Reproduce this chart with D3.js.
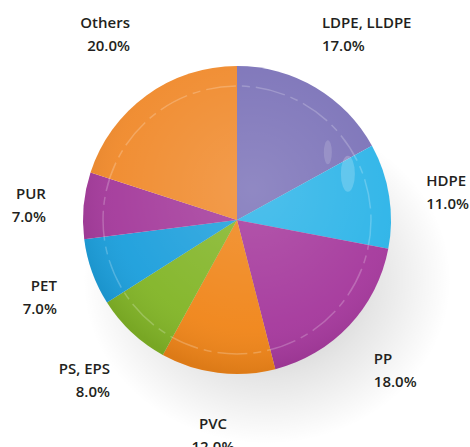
<!DOCTYPE html>
<html>
<head>
<meta charset="utf-8">
<script src="https://cdn.jsdelivr.net/npm/d3@7"></script>
<style>
	body { margin: 0; background: #fff; }
	svg { display: block; }
	text { font-family: "Open Sans", sans-serif; font-weight: 600; font-size: 15px; fill: #231f20; }
</style>
</head>
<body>
<svg id="pie"></svg>
<script>
const categories = ["LDPE, LLDPE", "HDPE", "PP", "PVC", "PS, EPS", "PET", "PUR", "Others"];
const shares = [17.0, 11.0, 18.0, 12.0, 8.0, 7.0, 7.0, 20.0];
const colours = ["#7b72b8", "#2cb4e8", "#a5389c", "#f08519", "#82b527", "#1c9fdc", "#a43a9b", "#f08a2c"];

const width = 470, height = 447;
const cx = 237, cy = 220, radius = 154;

const svg = d3.select("#pie")
		.attr("width", width)
		.attr("height", height);

const defs = svg.append("defs");

// soft shadow under the ball
const shadow = defs.append("radialGradient").attr("id", "shadow");
shadow.append("stop").attr("offset", "0%").attr("stop-color", "#000").attr("stop-opacity", 0.28);
shadow.append("stop").attr("offset", "60%").attr("stop-color", "#000").attr("stop-opacity", 0.1);
shadow.append("stop").attr("offset", "100%").attr("stop-color", "#000").attr("stop-opacity", 0);

// gloss over the slices
const gloss = defs.append("radialGradient").attr("id", "gloss")
		.attr("cx", "55%").attr("cy", "40%").attr("r", "60%");
gloss.append("stop").attr("offset", "0%").attr("stop-color", "#fff").attr("stop-opacity", 0.16);
gloss.append("stop").attr("offset", "75%").attr("stop-color", "#fff").attr("stop-opacity", 0.04);
gloss.append("stop").attr("offset", "100%").attr("stop-color", "#000").attr("stop-opacity", 0.08);

svg.append("ellipse")
	.attr("cx", cx + 30)
	.attr("cy", cy + 60)
	.attr("rx", radius + 30)
	.attr("ry", radius + 10)
	.attr("fill", "url(#shadow)");

const g = svg.append("g").attr("transform", "translate(" + cx + "," + cy + ")");

const data = categories.map(function(c, i) {
	return { name: c, value: shares[i], colour: colours[i] };
});

const pie = d3.pie()
		.sort(null)
		.value(function(d) { return d.value });

const arc = d3.arc().innerRadius(0).outerRadius(radius);
const labelRx = 192, labelRy = 212;
const topRow = -186;

const arcs = pie(data);

g.selectAll("path.slice")
	.data(arcs)
	.enter()
	.append("path")
	.attr("class", "slice")
	.attr("d", arc)
	.attr("fill", function(d) { return d.data.colour });

g.append("circle")
	.attr("r", radius)
	.attr("fill", "url(#gloss)");

// faint glass ring
g.append("circle")
	.attr("r", radius * 0.87)
	.attr("fill", "none")
	.attr("stroke", "#fff")
	.attr("stroke-opacity", 0.22)
	.attr("stroke-width", 1.5)
	.attr("stroke-dasharray", "30 6 8 6");

// highlight blobs on the right
g.append("ellipse")
	.attr("cx", radius * 0.72).attr("cy", -radius * 0.3)
	.attr("rx", 7).attr("ry", 18)
	.attr("fill", "#fff").attr("fill-opacity", 0.2);
g.append("ellipse")
	.attr("cx", radius * 0.59).attr("cy", -radius * 0.44)
	.attr("rx", 4).attr("ry", 12)
	.attr("fill", "#fff").attr("fill-opacity", 0.15);

const labels = g.selectAll("g.label")
	.data(arcs)
	.enter()
	.append("g")
	.attr("class", "label");

labels.each(function(d) {
	const a = (d.startAngle + d.endAngle) / 2;
	const s = Math.sin(a);
	const c = Math.cos(a);
	const px = s * labelRx;
	// labels of the upper slices share one row above the pie
	const py = c > 0.75 ? topRow : -c * labelRy + 5;
	let frac = (1 - Math.sign(s) * Math.sqrt(Math.abs(s))) / 2;
	if (Math.abs(s) < 0.2) frac = 0.5;
	const anchor = frac < 0.3 ? "start" : (frac > 0.7 ? "end" : "middle");
	const lab = d3.select(this);
	const t1 = lab.append("text").attr("y", py - 6).text(d.data.name);
	const t2 = lab.append("text").attr("y", py + 17).text(d3.format(".1f")(d.data.value) + "%");
	const w = Math.max(t1.node().getComputedTextLength(), t2.node().getComputedTextLength());
	let left = px - frac * w;
	// keep inside the window
	left = Math.min(left, width - cx - w - 1);
	left = Math.max(left, -cx + 1);
	const x = anchor === "start" ? left : (anchor === "end" ? left + w : left + w / 2);
	lab.selectAll("text").attr("x", x).attr("text-anchor", anchor);
});
</script>
</body>
</html>
